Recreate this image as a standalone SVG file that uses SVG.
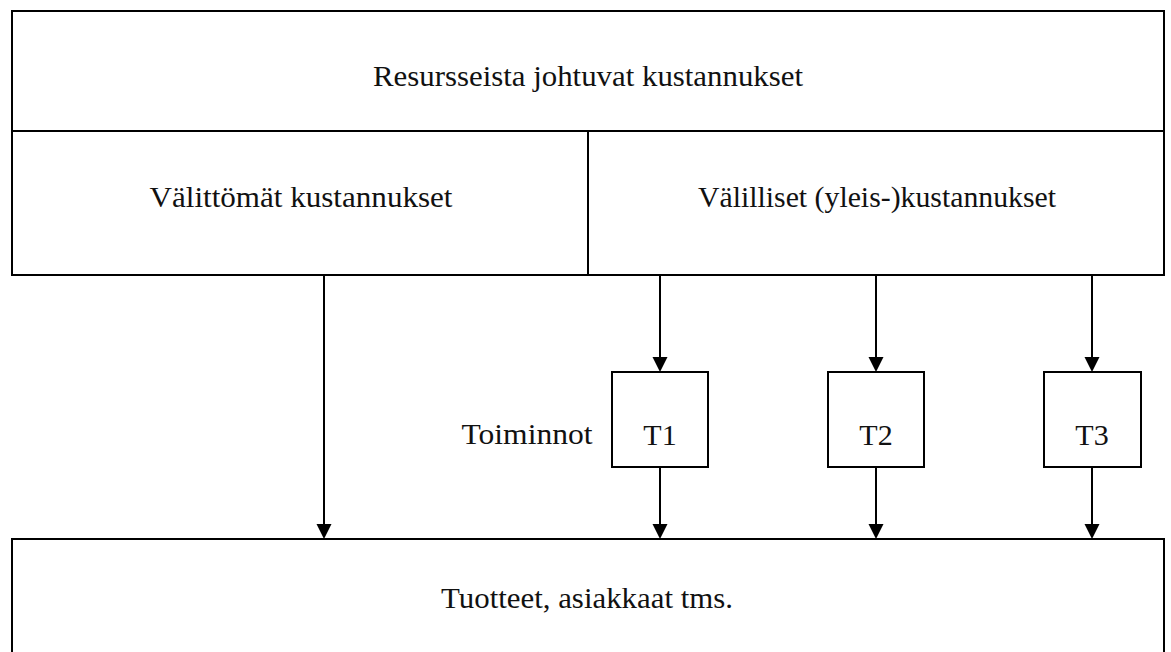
<svg xmlns="http://www.w3.org/2000/svg" width="1171" height="652" viewBox="0 0 1171 652">
<style>
.box{fill:#fff;stroke:#000;stroke-width:2}
.t{font-family:"Liberation Serif","DejaVu Serif",serif;font-size:30px;fill:#111;text-anchor:middle}
.c{stroke:#000;stroke-width:2;fill:none}
.h{fill:#000}
</style>
<defs>
<path id="head" class="h" d="M-7.5,-15 L7.5,-15 L0,0 Z"/>
</defs>
<rect width="1171" height="652" fill="#fff"/>
<g id="resurssit">
<rect class="box" x="12" y="11" width="1152" height="120"/>
<text class="t" x="588" y="86" textLength="430" lengthAdjust="spacingAndGlyphs">Resursseista johtuvat kustannukset</text>
</g>
<g id="valittomat">
<rect class="box" x="12" y="131" width="576" height="144"/>
<text class="t" x="301" y="207" textLength="303" lengthAdjust="spacingAndGlyphs">Välittömät kustannukset</text>
</g>
<g id="valilliset">
<rect class="box" x="588" y="131" width="576" height="144"/>
<text class="t" x="877" y="207" textLength="358" lengthAdjust="spacingAndGlyphs">Välilliset (yleis-)kustannukset</text>
</g>
<g id="toiminnot-label">
<text class="t" x="527" y="444" textLength="131" lengthAdjust="spacingAndGlyphs">Toiminnot</text>
</g>
<g id="T1">
<rect class="box" x="612" y="372" width="96" height="95"/>
<text class="t" x="660" y="445">T1</text>
</g>
<g id="T2">
<rect class="box" x="828" y="372" width="96" height="95"/>
<text class="t" x="876" y="445">T2</text>
</g>
<g id="T3">
<rect class="box" x="1044" y="372" width="97" height="95"/>
<text class="t" x="1092" y="445">T3</text>
</g>
<g id="tuotteet">
<rect class="box" x="12" y="539" width="1152" height="130"/>
<text class="t" x="587" y="608" textLength="292" lengthAdjust="spacingAndGlyphs">Tuotteet, asiakkaat tms.</text>
</g>
<g id="connectors">
<line class="c" x1="324" y1="275" x2="324" y2="526"/><use href="#head" x="324" y="539"/>
<line class="c" x1="660" y1="275" x2="660" y2="359"/><use href="#head" x="660" y="372"/>
<line class="c" x1="876" y1="275" x2="876" y2="359"/><use href="#head" x="876" y="372"/>
<line class="c" x1="1092" y1="275" x2="1092" y2="359"/><use href="#head" x="1092" y="372"/>
<line class="c" x1="660" y1="467" x2="660" y2="526"/><use href="#head" x="660" y="539"/>
<line class="c" x1="876" y1="467" x2="876" y2="526"/><use href="#head" x="876" y="539"/>
<line class="c" x1="1092" y1="467" x2="1092" y2="526"/><use href="#head" x="1092" y="539"/>
</g>
</svg>
